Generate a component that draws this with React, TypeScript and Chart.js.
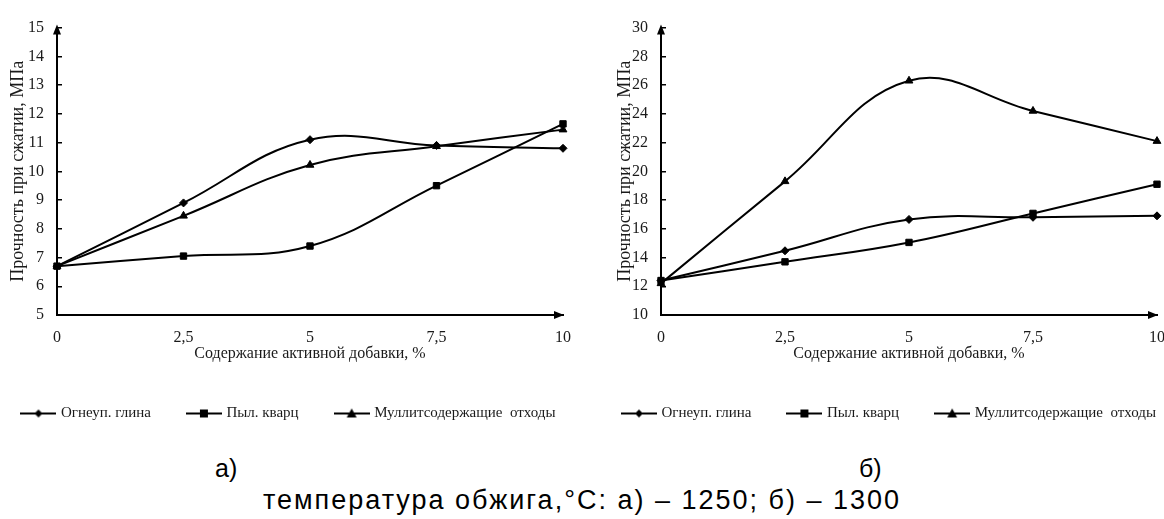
import React, { useEffect, useRef } from "react";
import { Chart, registerables } from "chart.js";

Chart.register(...registerables);

// ---- data ----
const xLabels = ["0", "2,5", "5", "7,5", "10"];
const seriesNames = ["Огнеуп. глина", "Пыл. кварц", "Муллитсодержащие  отходы"];
const seriesMarkers = ["rectRot", "rect", "triangle"];

// а) 1250 °C
const aGlina = [6.7, 8.9, 11.1, 10.9, 10.8];
const aKvarc = [6.7, 7.05, 7.4, 9.5, 11.65];
const aMullit = [6.7, 8.45, 10.22, 10.87, 11.45];
const aYRange = [5, 15, 1];

// б) 1300 °C
const bGlina = [12.4, 14.47, 16.65, 16.8, 16.9];
const bKvarc = [12.4, 13.7, 15.05, 17.07, 19.1];
const bMullit = [12.2, 19.3, 26.3, 24.2, 22.1];
const bYRange = [10, 30, 2];

const yTitle = "Прочность при сжатии, МПа";
const xTitle = "Содержание активной добавки, %";

const SERIF = "'Liberation Serif', 'Times New Roman', serif";
const TEXT = "#1a1a1a";

function makeLegendIcon(style: string): HTMLCanvasElement {
  const c = document.createElement("canvas");
  c.width = 36;
  c.height = 12;
  const ctx = c.getContext("2d")!;
  ctx.strokeStyle = "#000";
  ctx.lineWidth = 2;
  ctx.beginPath();
  ctx.moveTo(0, 6);
  ctx.lineTo(36, 6);
  ctx.stroke();
  ctx.fillStyle = "#000";
  ctx.beginPath();
  if (style === "rectRot") {
    ctx.moveTo(18, 2);
    ctx.lineTo(22, 6);
    ctx.lineTo(18, 10);
    ctx.lineTo(14, 6);
  } else if (style === "rect") {
    ctx.rect(14, 2, 8, 8);
  } else {
    ctx.moveTo(18, 1);
    ctx.lineTo(23, 10);
    ctx.lineTo(13, 10);
  }
  ctx.closePath();
  ctx.fill();
  return c;
}

const axisArrows = {
  id: "axisArrows",
  afterDraw(chart: any) {
    const { ctx, chartArea } = chart;
    const { left, right, top, bottom } = chartArea;
    ctx.save();
    ctx.fillStyle = "#000";
    ctx.beginPath();
    ctx.moveTo(left, top - 3);
    ctx.lineTo(left - 4, top + 7);
    ctx.lineTo(left + 4, top + 7);
    ctx.closePath();
    ctx.fill();
    ctx.beginPath();
    ctx.moveTo(right + 1, bottom);
    ctx.lineTo(right - 9, bottom - 4);
    ctx.lineTo(right - 9, bottom + 4);
    ctx.closePath();
    ctx.fill();
    ctx.restore();
  },
};

type PanelProps = {
  series: number[][];
  yRange: number[];
  left: number;
  width: number;
  height: number;
  padLeft: number;
  padRight: number;
  yAxisWidth: number;
  rightAxisWidth: number;
  yTitlePad: number;
};

function Panel(p: PanelProps) {
  const ref = useRef<HTMLCanvasElement>(null);
  useEffect(() => {
    if (!ref.current) return;
    const icons = seriesMarkers.map((m) => makeLegendIcon(m));
    const chart = new Chart(ref.current, {
      type: "line",
      data: {
        labels: xLabels,
        datasets: p.series.map((vals, i) => ({
          label: seriesNames[i],
          data: vals,
          yAxisID: "y",
          borderColor: "#000",
          backgroundColor: "#000",
          borderWidth: 2,
          pointStyle: seriesMarkers[i] as any,
          pointRadius: i === 0 ? 4 : 4.5,
          pointBorderWidth: 1,
          pointBackgroundColor: "#000",
          pointBorderColor: "#000",
          tension: 0.4,
          clip: false as any,
        })),
      },
      options: {
        responsive: false,
        animation: false,
        devicePixelRatio: 1,
        layout: { padding: { left: p.padLeft, right: p.padRight, top: 20, bottom: 0 } },
        plugins: {
          tooltip: { enabled: false },
          legend: {
            position: "bottom",
            align: "center",
            labels: {
              usePointStyle: true,
              pointStyleWidth: 30,
              padding: 38,
              color: TEXT,
              font: { family: SERIF, size: 15 },
              generateLabels: (ch: any) => {
                const items = Chart.defaults.plugins.legend.labels.generateLabels(ch);
                return items.map((it: any, i: number) => ({ ...it, pointStyle: icons[i] }));
              },
            },
          },
        },
        scales: {
          x: {
            type: "category",
            offset: false,
            grid: { display: false, drawTicks: false },
            border: { display: true, color: "#000", width: 2 },
            ticks: { color: TEXT, font: { family: SERIF, size: 16 }, padding: 13, maxRotation: 0 },
            title: {
              display: true,
              text: xTitle,
              color: TEXT,
              font: { family: SERIF, size: 16 },
              padding: { top: 0, bottom: 4.4 },
            },
            afterFit: (s: any) => {
              s.height = 53;
            },
          },
          y: {
            type: "linear",
            position: "left",
            min: p.yRange[0],
            max: p.yRange[1],
            grid: { display: true, drawOnChartArea: false, drawTicks: true, tickLength: -5, color: "#000", lineWidth: 1.5 },
            border: { display: true, color: "#000", width: 2 },
            ticks: { stepSize: p.yRange[2], color: TEXT, font: { family: SERIF, size: 16 }, padding: 18 },
            title: {
              display: true,
              text: yTitle,
              color: TEXT,
              font: { family: SERIF, size: 18 },
              padding: { top: p.yTitlePad, bottom: 0 },
            },
            afterFit: (s: any) => {
              s.width = p.yAxisWidth;
            },
          },
          yR: {
            type: "linear",
            position: "right",
            display: true,
            grid: { display: false, drawTicks: false },
            border: { display: false },
            ticks: { display: false },
            afterFit: (s: any) => {
              s.width = p.rightAxisWidth;
            },
          },
        },
      },
      plugins: [axisArrows],
    });
    return () => chart.destroy();
  }, []);
  return (
    <canvas
      ref={ref}
      width={p.width}
      height={p.height}
      style={{ position: "absolute", left: p.left, top: 0, width: p.width, height: p.height, display: "block" }}
    />
  );
}

export default function App() {
  const capStyle: React.CSSProperties = {
    position: "absolute",
    fontFamily: "'Liberation Sans', Arial, sans-serif",
    fontSize: 25,
    color: "#000",
    lineHeight: "28px",
    whiteSpace: "nowrap",
  };
  return (
    <div
      style={{
        position: "fixed",
        left: 0,
        top: 0,
        width: 1164,
        height: 519,
        overflow: "hidden",
        background: "#fff",
      }}
    >
      <Panel
        series={[aGlina, aKvarc, aMullit]}
        yRange={aYRange}
        left={-60}
        width={700}
        height={431}
        padLeft={0}
        padRight={1}
        yAxisWidth={117}
        rightAxisWidth={76}
        yTitlePad={67}
      />
      <Panel
        series={[bGlina, bKvarc, bMullit]}
        yRange={bYRange}
        left={522}
        width={700}
        height={431}
        padLeft={36}
        padRight={0}
        yAxisWidth={103}
        rightAxisWidth={65}
        yTitlePad={56}
      />
      <div style={{ ...capStyle, left: 215, top: 454 }}>а)</div>
      <div style={{ ...capStyle, left: 859, top: 454 }}>б)</div>
      <div
        style={{
          ...capStyle,
          left: 0,
          top: 486,
          width: 1164,
          textAlign: "center",
          fontSize: 27,
          letterSpacing: "2px",
        }}
      >
        температура обжига,°С: а) – 1250; б) – 1300
      </div>
    </div>
  );
}
